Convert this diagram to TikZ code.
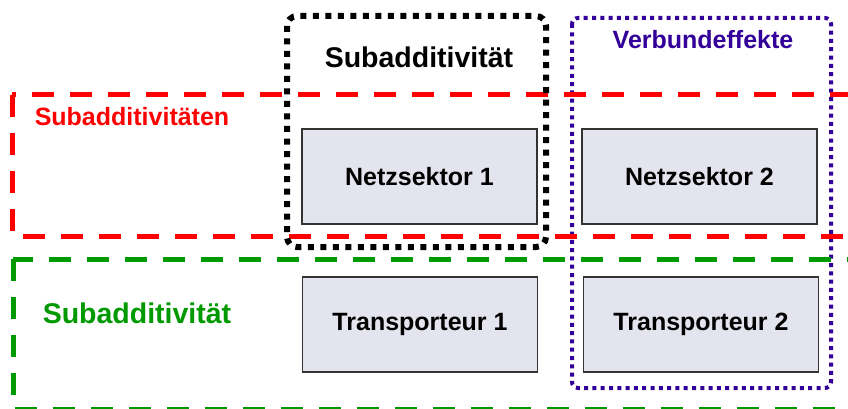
\documentclass[tikz,border=0pt]{standalone}
\usepackage{fontspec}
\setmainfont{Liberation Sans}
\definecolor{myred}{RGB}{255,0,0}
\definecolor{mygreen}{RGB}{0,153,0}
\definecolor{mypurple}{RGB}{51,0,153}
\definecolor{boxfill}{RGB}{228,228,238}
\definecolor{boxline}{RGB}{51,51,51}
\tikzset{
  sector/.style={draw=boxline, line width=1.5pt, fill=boxfill, minimum width=235pt,
    minimum height=95pt, inner sep=0pt, font=\fontsize{25}{30}\selectfont\bfseries, text=black},
  redframe/.style={draw=myred, line width=5pt, dash pattern=on 22pt off 16pt},
  greenframe/.style={draw=mygreen, line width=5pt, dash pattern=on 22pt off 16pt},
  blackframe/.style={draw=black, line width=6pt, dash pattern=on 6pt off 6.5pt, rounded corners=10pt},
  purpleframe/.style={draw=mypurple, line width=4pt, dash pattern=on 4pt off 4.3pt, rounded corners=6pt},
  lbl/.style={inner sep=0pt, font=\fontsize{25}{30}\selectfont\bfseries}
}
\begin{document}
\begin{tikzpicture}[x=1pt,y=-1pt]
\useasboundingbox (0,0) rectangle (848,409);
\clip (0,0) rectangle (848,409);
\fill[white] (0,0) rectangle (848,409);
% frames
\draw[purpleframe] (572,18) rectangle (831,388);
\draw[redframe] (12,95) rectangle (880,236);
\draw[greenframe] (13,259) rectangle (880,409);
\draw[blackframe] (287,16) rectangle (546,247);
% labels
\node[lbl, text=myred] (lred) at (132,117) {Subadditivitäten};
\node[lbl, text=black, font=\fontsize{28.5}{33}\selectfont\bfseries] (lblack) at (419,57) {Subadditivität};
\node[lbl, text=mypurple] (lpurple) at (703,40) {Verbundeffekte};
\node[lbl, text=mygreen, font=\fontsize{28.5}{33}\selectfont\bfseries] (lgreen) at (137,313) {Subadditivität};
% boxes
\node[sector] (n1) at (419.5,176.5) {Netzsektor 1};
\node[sector] (n2) at (699.5,176.5) {Netzsektor 2};
\node[sector] (t1) at (420,324.5) {Transporteur 1};
\node[sector] (t2) at (701,324.5) {Transporteur 2};
\end{tikzpicture}
\end{document}
